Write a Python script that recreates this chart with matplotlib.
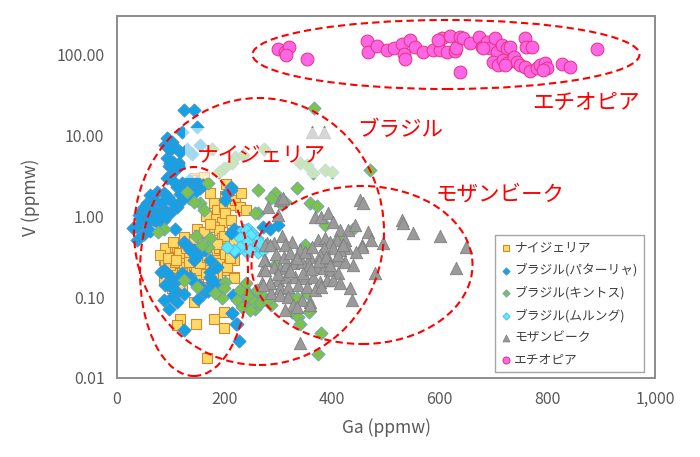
import matplotlib
matplotlib.use('Agg')
import matplotlib.pyplot as plt
from matplotlib.patches import Ellipse, Rectangle
from matplotlib.ticker import FixedLocator, FuncFormatter

plt.rcParams['font.family'] = ['Noto Sans CJK JP', 'DejaVu Sans']

# ---- data (Ga ppmw, V ppmw) ----
nigeria_ga = [180, 186, 198, 214, 220, 183, 195, 201, 229, 211, 180, 189, 195, 205, 214, 217, 180, 189, 198,
              149, 152, 161, 108, 99, 93, 102, 115, 124, 133, 143, 112, 124, 136, 149, 161, 186, 192, 205, 217,
              87, 99, 108, 121, 133, 149, 155, 167, 180, 186, 205, 158, 167, 217,
              90, 105, 115, 90, 99, 108, 124, 133, 146, 155, 189, 198, 205, 217, 102, 121, 87, 143, 118, 112,
              146, 180, 198, 167, 198, 145, 149, 161, 203, 172, 200, 230, 240, 165, 172,
              80, 95, 110, 128, 140, 158, 168, 175, 120, 135, 150, 165, 178, 105, 160, 185, 200, 210, 140, 125]
nigeria_v = [1.43, 1.19, 1.30, 1.36, 1.57, 0.93, 0.85, 1.08, 1.30, 0.89, 0.74, 0.67, 0.53, 0.56, 0.61, 0.50, 0.35, 0.40, 0.40,
             0.70, 0.58, 0.64, 0.42, 0.40, 0.36, 0.31, 0.33, 0.31, 0.33, 0.35, 0.26, 0.26, 0.237, 0.26, 0.29, 0.29, 0.237, 0.25, 0.178,
             0.29, 0.226, 0.196, 0.215, 0.187, 0.187, 0.215, 0.215, 0.237, 0.187, 0.215, 0.134, 0.122, 0.29,
             0.40, 0.48, 0.35, 0.26, 0.25, 0.27, 0.237, 0.27, 0.206, 0.26, 0.26, 0.56, 0.237, 0.170, 0.128, 0.141, 0.162, 0.087, 0.054, 0.045,
             0.047, 0.054, 0.041, 0.0175, 0.066, 2.94, 2.78, 3.05, 2.5, 1.9, 1.75, 1.9, 1.2, 1.0, 0.8,
             0.33, 0.30, 0.29, 0.40, 0.43, 0.36, 0.31, 0.45, 0.20, 0.17, 0.16, 0.19, 0.17, 0.17, 0.47, 0.45, 0.34, 0.30, 0.52, 0.55]

pataria_ga = [124, 143, 121, 149, 93, 102, 90, 108, 118, 99, 93, 105, 115, 96, 108, 99, 211,
              130, 155, 139,
              99, 115, 93, 102, 121, 133, 149, 112, 124, 139, 155, 87, 74, 62, 68, 56, 81, 46, 59, 40, 53, 37,
              68, 87, 99, 121, 133, 112, 108, 37,
              124, 133, 143, 152, 164, 173, 143, 217, 226, 211, 204, 201,
              87, 96, 112, 173, 177, 192, 136, 152, 121,
              124, 136, 146, 81, 93, 99, 90, 112, 102, 87, 96, 112, 139, 155, 164, 173, 177, 186, 214, 223, 226, 124,
              211, 220, 235, 245, 284, 300, 272, 216, 222, 213, 30, 50, 62, 78, 45,
              50, 65, 78, 90, 105, 95, 118, 130, 145, 160, 70, 85, 55, 105, 125, 150, 170]
pataria_v = [20.4, 20.4, 11.0, 12.7, 9.1, 8.3, 7.5, 7.2, 6.2, 6.5, 5.2, 4.7, 4.5, 4.1, 3.7, 3.2, 2.3,
             6.8, 7.5, 5.9,
             4.5, 4.1, 2.92, 2.78, 2.53, 2.78, 2.65, 2.30, 2.09, 2.30, 2.19, 1.91, 2.00, 1.82, 1.57, 1.43, 1.43, 1.19, 1.08, 1.03, 0.89, 0.74,
             0.89, 0.89, 1.08, 1.57, 1.65, 1.30, 0.70, 0.50,
             0.48, 0.42, 0.38, 0.35, 0.38, 0.29, 0.29, 0.70, 0.64, 2.09, 1.91, 1.57,
             0.215, 0.187, 0.162, 0.178, 0.147, 0.141, 0.178, 0.141, 0.196,
             0.46, 0.38, 0.31, 0.206, 0.196, 0.155, 0.141, 0.116, 0.101, 0.092, 0.072, 0.087, 0.162, 0.134, 0.116, 0.206, 0.162, 0.237, 0.063, 0.047, 0.029, 0.039,
             0.61, 0.36, 0.53, 0.58, 0.70, 0.77, 0.74, 0.106, 0.047, 0.063, 0.71, 0.60, 0.66, 0.80, 0.92,
             1.3, 1.25, 1.1, 1.2, 1.45, 1.7, 1.85, 2.3, 2.0, 2.4, 0.95, 1.05, 0.82, 0.125, 0.11, 0.095, 0.12]

kintos_ga = [263, 334, 294, 287, 303, 312, 263, 359, 371, 387, 411, 439, 349, 343, 294, 235, 244, 253, 266, 247,
             235, 256, 269, 287, 322, 334, 325, 337, 340, 356, 353, 380, 374, 367, 470,
             340, 353, 365, 387, 399, 177, 220, 214, 235, 273, 198, 189, 170, 130,
             155, 143, 161, 87, 77, 146, 173, 170, 158, 124, 149, 201, 198, 257,
             195, 183, 239, 229, 223, 232, 245, 254, 248, 266, 279, 260]
kintos_v = [2.09, 2.20, 1.91, 1.65, 1.43, 1.50, 1.08, 1.43, 1.33, 0.77, 0.51, 0.70, 0.44, 0.38, 0.25, 0.134, 0.111, 0.096, 0.084, 0.080,
            0.092, 0.072, 0.106, 0.080, 0.101, 0.096, 0.066, 0.057, 0.047, 0.066, 0.111, 0.036, 0.020, 21.4, 3.70,
            4.47, 4.26, 3.37, 3.70, 3.52, 6.8, 5.4, 4.5, 5.7, 6.8, 3.9, 3.5, 2.53, 2.0,
            1.43, 1.50, 1.19, 0.70, 0.64, 0.56, 0.53, 0.42, 0.44, 0.162, 0.134, 0.155, 0.128, 1.08,
            0.096, 0.111, 0.148, 0.122, 0.092, 0.076, 0.101, 0.087, 0.069, 0.084, 0.092, 0.122]

mulungu_ga = [235, 244, 250, 260, 247, 238, 253, 263, 272, 241, 229, 266, 239, 248, 242, 229, 217, 248, 204]
mulungu_v = [0.67, 0.70, 0.61, 0.53, 0.48, 0.42, 0.40, 0.36, 0.38, 0.36, 0.53, 0.46, 0.67, 0.58, 0.48, 0.42, 0.38, 0.38, 0.42]

mozambique_ga = [281, 303, 309, 300, 452, 458, 368, 380, 393, 402, 415, 430, 442, 467, 473, 495,
                 374, 387, 396, 408, 424, 427, 415, 402, 384, 455,
                 278, 291, 306, 325, 312, 340, 359, 377, 393, 408, 424, 439, 480,
                 275, 272, 291, 303, 315, 328, 343, 356, 371, 384, 396, 411,
                 269, 284, 300, 315, 331, 349, 365, 377, 390, 402, 415, 433, 436,
                 287, 303, 318, 337, 353, 368, 380, 303, 318, 328, 343, 359, 312, 334, 359, 340,
                 529, 532, 551, 600, 649, 631, 455, 362, 384, 275, 284, 273, 275, 284, 272,
                 295, 310, 322, 335, 350, 362, 376, 388, 300, 322, 345, 360, 395, 410, 420, 445]
mozambique_v = [1.30, 1.57, 1.65, 1.03, 1.57, 1.46, 0.98, 0.98, 1.08, 0.85, 0.67, 0.67, 0.77, 0.64, 0.51, 0.46,
                0.51, 0.53, 0.48, 0.51, 0.51, 0.40, 0.38, 0.40, 0.40, 0.44,
                0.46, 0.46, 0.56, 0.48, 0.44, 0.38, 0.31, 0.33, 0.30, 0.29, 0.27, 0.25, 0.196,
                0.29, 0.215, 0.237, 0.226, 0.25, 0.26, 0.27, 0.25, 0.237, 0.226, 0.215, 0.196,
                0.148, 0.148, 0.162, 0.178, 0.178, 0.170, 0.178, 0.155, 0.162, 0.162, 0.148, 0.128, 0.092,
                0.111, 0.128, 0.134, 0.141, 0.134, 0.122, 0.134, 0.106, 0.101, 0.080, 0.092, 0.087, 0.069, 0.076, 0.080, 0.027,
                0.89, 0.81, 0.61, 0.56, 0.42, 0.226, 0.42, 10.8, 10.8, 0.44, 0.44, 0.29, 0.215, 0.149, 0.141,
                0.34, 0.31, 0.35, 0.30, 0.36, 0.41, 0.28, 0.31, 0.19, 0.21, 0.20, 0.22, 0.25, 0.33, 0.44, 0.36]

ethiopia_ga = [300, 312, 320, 315, 354, 464, 467, 483, 501, 514, 529, 545, 533, 535, 554, 569, 588, 600, 604, 613,
               619, 628, 631, 638, 644, 656, 638, 672, 678, 687, 693, 703, 706, 715, 724, 730, 699, 709, 718, 724,
               737, 743, 749, 758, 761, 771, 758, 768, 780, 786, 796, 799, 827, 842, 892, 597, 681, 721, 792]
ethiopia_v = [117, 107, 121, 97, 86, 145, 107, 127, 112, 118, 132, 149, 99, 88, 123, 107, 112, 112, 156, 107,
              168, 109, 118, 164, 156, 136, 60, 164, 123, 142, 118, 156, 107, 129, 118, 123, 80, 73, 84, 77,
              93, 80, 73, 156, 123, 123, 70, 61, 67, 73, 77, 67, 75, 70, 115, 149, 118, 73, 63]

x_ticks = [0, 200, 400, 600, 800, 1000]
y_ticks = [0.01, 0.1, 1, 10, 100]

fig = plt.figure(figsize=(7, 4.57), dpi=100)
ax = fig.add_axes([117 / 700, 1 - 378 / 457, 538 / 700, 362 / 457])

ax.scatter(nigeria_ga, nigeria_v, marker='s', s=48, facecolor='#FFD966', edgecolor='#D08A2E', linewidth=0.8,
           label='ナイジェリア', zorder=2)
ax.scatter(pataria_ga, pataria_v, marker='D', s=45, facecolor='#12A2E6', edgecolor='#4A8FCC', linewidth=0.6,
           label='ブラジル(パターリャ)', zorder=2)
ax.scatter(kintos_ga, kintos_v, marker='D', s=45, facecolor='#7DC24B', edgecolor='#6A9FC8', linewidth=0.6,
           label='ブラジル(キントス)', zorder=2)
ax.scatter(mulungu_ga, mulungu_v, marker='D', s=45, facecolor='#5CE8FF', edgecolor='#4FB8E8', linewidth=0.6,
           label='ブラジル(ムルング)', zorder=2)
ax.scatter(mozambique_ga, mozambique_v, marker='^', s=80, facecolor='#9A9A9A', edgecolor='#7F7F7F', linewidth=0.6,
           label='モザンビーク', zorder=2)
ax.scatter(ethiopia_ga, ethiopia_v, marker='o', s=85, facecolor='#FF66E6', edgecolor='#E8307E', linewidth=0.7,
           label='エチオピア', zorder=2)

ax.set_yscale('log')
ax.set_xlim(0, 1000)
ax.set_ylim(0.01, 10 ** 2.47)
ax.xaxis.set_major_locator(FixedLocator(x_ticks))
ax.yaxis.set_major_locator(FixedLocator(y_ticks))
ax.yaxis.set_minor_locator(FixedLocator([]))
ax.xaxis.set_major_formatter(FuncFormatter(lambda v, p: f'{v:,.0f}'))
ax.yaxis.set_major_formatter(FuncFormatter(lambda v, p: f'{v:.2f}'))
ax.tick_params(length=0, labelsize=11.5, labelcolor='#595959', pad=9)
for sp in ax.spines.values():
    sp.set_color('#8C8C8C')
    sp.set_linewidth(1.4)

ax.set_xlabel('Ga (ppmw)', fontsize=12.5, color='#595959', labelpad=8)
ax.set_ylabel('V (ppmw)', fontsize=12.5, color='#595959', labelpad=12)

# white semi-transparent box behind the Nigeria label
ax.add_patch(Rectangle((0.126, 0.552), 0.288, 0.139, transform=ax.transAxes, facecolor='white',
                       edgecolor='none', alpha=0.6, zorder=3))

# dashed ellipses (axes fraction)
ellipses = [(0.6115, 0.8936, 0.7193, 0.1906),
            (0.2639, 0.4047, 0.4647, 0.7376),
            (0.1431, 0.2942, 0.2007, 0.5773),
            (0.4554, 0.3122, 0.4108, 0.4365)]
for cx, cy, w, h in ellipses:
    ax.add_patch(Ellipse((cx, cy), w, h, transform=ax.transAxes, fill=False, edgecolor='#FF0000',
                         linewidth=1.5, linestyle=(0, (3.5, 2)), zorder=5))

labels = [('エチオピア', 0.8717, 0.7597), ('ブラジル', 0.5260, 0.6851),
          ('ナイジェリア', 0.2680, 0.6160), ('モザンビーク', 0.7119, 0.5055)]
for txt, lx, ly in labels:
    ax.text(lx, ly, txt, transform=ax.transAxes, color='#FF0000', fontsize=15.5,
            ha='center', va='center', zorder=6)

leg = ax.legend(loc='upper left', bbox_to_anchor=(0.703, 0.395), fontsize=9.2, markerscale=0.55,
                handlelength=0.7, handletextpad=0.3, labelspacing=0.7, borderpad=0.5,
                fancybox=False, framealpha=1, edgecolor='#A6A6A6', borderaxespad=0)
leg.get_frame().set_linewidth(1.0)
leg.set_zorder(7)
for t in leg.get_texts():
    t.set_color('#404040')

fig.savefig('out.png', dpi=100)
